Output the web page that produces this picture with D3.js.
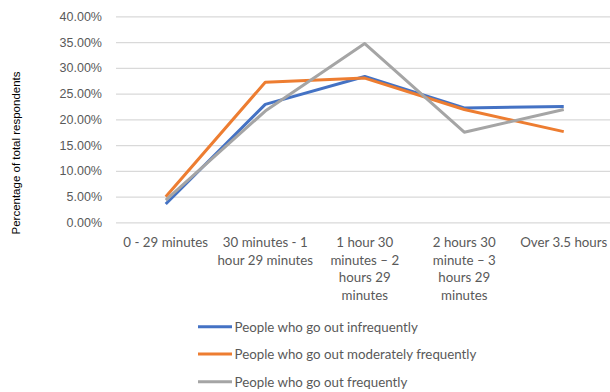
<!DOCTYPE html>
<html>
<head>
<meta charset="utf-8">
<script src="https://cdn.jsdelivr.net/npm/d3@7"></script>
<style>
  html, body { margin: 0; padding: 0; background: #fff; }
  svg { display: block; }
</style>
</head>
<body>
<svg id="chart" width="610" height="392"></svg>
<script>
// Time spent per session, by how often people go out
const categories = [
  ["0 - 29 minutes"],
  ["30 minutes - 1", "hour 29 minutes"],
  ["1 hour 30", "minutes \u2013 2", "hours 29", "minutes"],
  ["2 hours 30", "minute \u2013 3", "hours 29", "minutes"],
  ["Over 3.5 hours"]
];
const seriesNames = [
  "People who go out infrequently",
  "People who go out moderately frequently",
  "People who go out frequently"
];
const infrequent = [3.55, 22.9, 28.3, 22.2, 22.5];
const moderate   = [4.97, 27.2, 28.0, 21.9, 17.6];
const frequent   = [4.3, 21.6, 34.7, 17.5, 21.9];
const yTicks = [0, 5, 10, 15, 20, 25, 30, 35, 40];
const colors = ["#4472C4", "#ED7D31", "#A5A5A5"];

const series = [infrequent, moderate, frequent];

const svg = d3.select("#chart");
const plotLeft = 116, plotRight = 613.5, plotTop = 16.3, plotBottom = 222.3;

const x = d3.scaleBand()
  .domain(d3.range(categories.length))
  .range([plotLeft, plotRight]);
const y = d3.scaleLinear().domain([0, 40]).range([plotBottom, plotTop]);

// Horizontal gridlines and percentage labels
const yAxis = d3.axisLeft(y)
  .tickValues(yTicks)
  .tickSize(-(plotRight - plotLeft))
  .tickPadding(14)
  .tickFormat(d => d.toFixed(2) + "%");
const gy = svg.append("g")
  .attr("transform", `translate(${plotLeft},0)`)
  .call(yAxis);
gy.select(".domain").remove();
gy.selectAll(".tick line").attr("stroke", "#d9d9d9").attr("stroke-width", 1.2);
gy.selectAll(".tick text")
  .attr("x", -14)
  .attr("fill", "#595959")
  .style("font-family", "'Liberation Sans', Arial, sans-serif")
  .style("font-size", "12.5px");

// Category labels, wrapped over several lines
const gx = svg.append("g");
categories.forEach((lines, i) => {
  const cx = x(i) + x.bandwidth() / 2;
  const t = gx.append("text")
    .attr("x", cx)
    .attr("y", 247)
    .attr("text-anchor", "middle")
    .attr("fill", "#595959")
    .style("font-family", "Lato, 'Open Sans', sans-serif")
    .style("font-size", "13.3px");
  lines.forEach((ln, j) => {
    t.append("tspan")
      .attr("x", cx)
      .attr("dy", j === 0 ? 0 : 17.6)
      .text(ln);
  });
});

// Axis title
svg.append("text")
  .attr("transform", "translate(20,153) rotate(-90)")
  .attr("text-anchor", "middle")
  .attr("fill", "#000")
  .style("font-family", "'Liberation Sans', Arial, sans-serif")
  .style("font-size", "11.5px")
  .text("Percentage of total respondents");

// Series lines
const line = d3.line()
  .x((d, i) => x(i) + x.bandwidth() / 2)
  .y(d => y(d));
series.forEach((s, k) => {
  svg.append("path")
    .datum(s)
    .attr("d", line)
    .attr("fill", "none")
    .attr("stroke", colors[k])
    .attr("stroke-width", 3)
    .attr("stroke-linejoin", "round");
});

// Legend
const legendY = [326.7, 354, 381.7];
seriesNames.forEach((name, k) => {
  svg.append("line")
    .attr("x1", 198).attr("x2", 232)
    .attr("y1", legendY[k]).attr("y2", legendY[k])
    .attr("stroke", colors[k])
    .attr("stroke-width", 3);
  svg.append("text")
    .attr("x", 234.5)
    .attr("y", legendY[k] + 4.8)
    .attr("fill", "#595959")
    .style("font-family", "Lato, 'Open Sans', sans-serif")
    .style("font-size", "13.3px")
    .text(name);
});
</script>
</body>
</html>
